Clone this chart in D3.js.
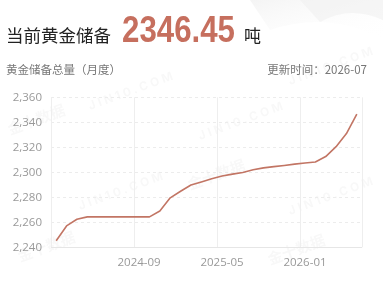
<!DOCTYPE html>
<html><head><meta charset="utf-8">
<script src="https://cdn.jsdelivr.net/npm/d3@7/dist/d3.min.js"></script>
<style>body{margin:0;background:#fff;}svg{display:block;}</style>
</head><body>
<svg id="c" width="383" height="282"></svg>
<script>
const months = ["2024-01","2024-02","2024-03","2024-04","2024-05","2024-06","2024-07","2024-08","2024-09","2024-10","2024-11","2024-12",
"2025-01","2025-02","2025-03","2025-04","2025-05","2025-06","2025-07","2025-08","2025-09","2025-10","2025-11","2025-12",
"2026-01","2026-02","2026-03","2026-04","2026-05","2026-06"];
const reserves = [2245.27,2257.09,2262.45,2264.32,2264.32,2264.32,2264.32,2264.32,2264.32,2264.32,2268.99,2279.57,
2284.86,2289.83,2292.32,2294.81,2296.99,2298.55,2299.80,2301.98,2303.54,2304.51,2305.49,2306.57,
2307.46,2308.30,2312.60,2320.50,2331.00,2346.45];
const yTicks = [2240,2260,2280,2300,2320,2340,2360];
const xLabels = ["2024-09","2025-05","2026-01"];
const title = "当前黄金储备", currentValue = "2346.45", unit = "吨";
const subtitle = "黄金储备总量（月度）", updated = "更新时间：2026-07";

const svg = d3.select("#c");
const defs = svg.append("defs");
const g1 = defs.append("linearGradient").attr("id","sw").attr("x1","0").attr("y1","0").attr("x2","1").attr("y2","1");
g1.append("stop").attr("offset","0").attr("stop-color","#f3f3f3").attr("stop-opacity",0.9);
g1.append("stop").attr("offset","1").attr("stop-color","#ffffff").attr("stop-opacity",0);
svg.append("path").attr("d","M250,0 L383,0 L383,40 Q330,10 270,30 Z").attr("fill","url(#sw)");
svg.append("path").attr("d","M300,0 L383,0 L383,20 Q350,5 320,22 Z").attr("fill","#f0f0f0").attr("opacity",0.6);

const m = {l:51, r:362, t:97.3, b:247.3};
const x = d3.scaleBand().domain(months).range([m.l, m.r]);
const y = d3.scaleLinear().domain([2240,2360]).range([m.b, m.t]);

// faint watermarks
const wm = svg.append("g").attr("fill","#000").attr("opacity",0.03).attr("font-family","Inter, sans-serif").attr("font-weight","700");
[[90,110],[200,140],[290,85],[80,210],[290,215]].forEach(([a,b])=>{
  wm.append("text").attr("transform",`translate(${a},${b}) rotate(-20)`).attr("font-size",12).attr("letter-spacing",3).text("JIN10.COM");
});
[[10,135],[190,190],[20,262],[270,265]].forEach(([a,b])=>{
  wm.append("text").attr("transform",`translate(${a},${b}) rotate(-20)`).attr("font-size",15).attr("font-family","Noto Sans CJK SC").text("金十数据");
});

// header
const hdr = svg.append("g");
hdr.append("text").attr("x",6).attr("y",41.5).attr("font-family","Noto Sans CJK SC").attr("font-size",17.5).attr("fill","#222").text(title);
hdr.append("text").attr("x",122).attr("y",42).attr("font-family","Liberation Sans, Arial, sans-serif").attr("font-weight","700").attr("font-size",37).attr("fill","#c66f5e").attr("textLength",113).attr("lengthAdjust","spacingAndGlyphs").text(currentValue);
hdr.append("text").attr("x",244).attr("y",41.5).attr("font-family","Noto Sans CJK SC").attr("font-size",17).attr("fill","#222").text(unit);
hdr.append("text").attr("x",6).attr("y",73.5).attr("font-family","Noto Sans CJK SC").attr("font-size",11.5).attr("fill","#777").text(subtitle);
hdr.append("text").attr("x",367).attr("y",73.5).attr("text-anchor","end").attr("font-family","Noto Sans CJK SC").attr("font-size",11.5).attr("fill","#777").text(updated);

// grid horizontal
svg.append("g").selectAll("line").data(yTicks.slice(1)).join("line")
  .attr("x1",m.l).attr("x2",m.r).attr("y1",d=>Math.round(y(d))+0.5).attr("y2",d=>Math.round(y(d))+0.5)
  .attr("stroke","#ececec").attr("stroke-dasharray","3,3");
// vertical lines at band boundaries
const vIdx = [0].concat(xLabels.map(l=>months.indexOf(l)));
const vx = vIdx.map(i=>x(months[i])).concat([m.r]);
svg.append("g").selectAll("line").data(vx).join("line")
  .attr("x1",d=>Math.round(d)+0.5).attr("x2",d=>Math.round(d)+0.5).attr("y1",m.t).attr("y2",m.b)
  .attr("stroke","#eeeeee");
// bottom axis line
svg.append("line").attr("x1",m.l).attr("x2",m.r).attr("y1",Math.round(m.b)+0.5).attr("y2",Math.round(m.b)+0.5).attr("stroke","#e6e6e6");

// y labels
const fmt = d3.format(",");
svg.append("g").selectAll("text").data(yTicks).join("text")
  .attr("x",42).attr("y",d=>y(d)).attr("dy","0.36em").attr("text-anchor","end")
  .attr("font-family","Open Sans, sans-serif").attr("font-size",11.5).attr("fill","#999").text(d=>fmt(d));
// x labels
svg.append("g").selectAll("text").data(xLabels).join("text")
  .attr("x",d=>x(d)+x.bandwidth()/2).attr("y",265.5).attr("text-anchor","middle")
  .attr("font-family","Open Sans, sans-serif").attr("font-size",11.5).attr("fill","#999").text(d=>d);

// line
const line = d3.line().x((d,i)=>x(months[i])+x.bandwidth()/2).y(d=>y(d));
svg.append("path").datum(reserves).attr("d",line).attr("fill","none").attr("stroke","#c27564").attr("stroke-width",1.6).attr("stroke-linejoin","round");
</script>
</body></html>
